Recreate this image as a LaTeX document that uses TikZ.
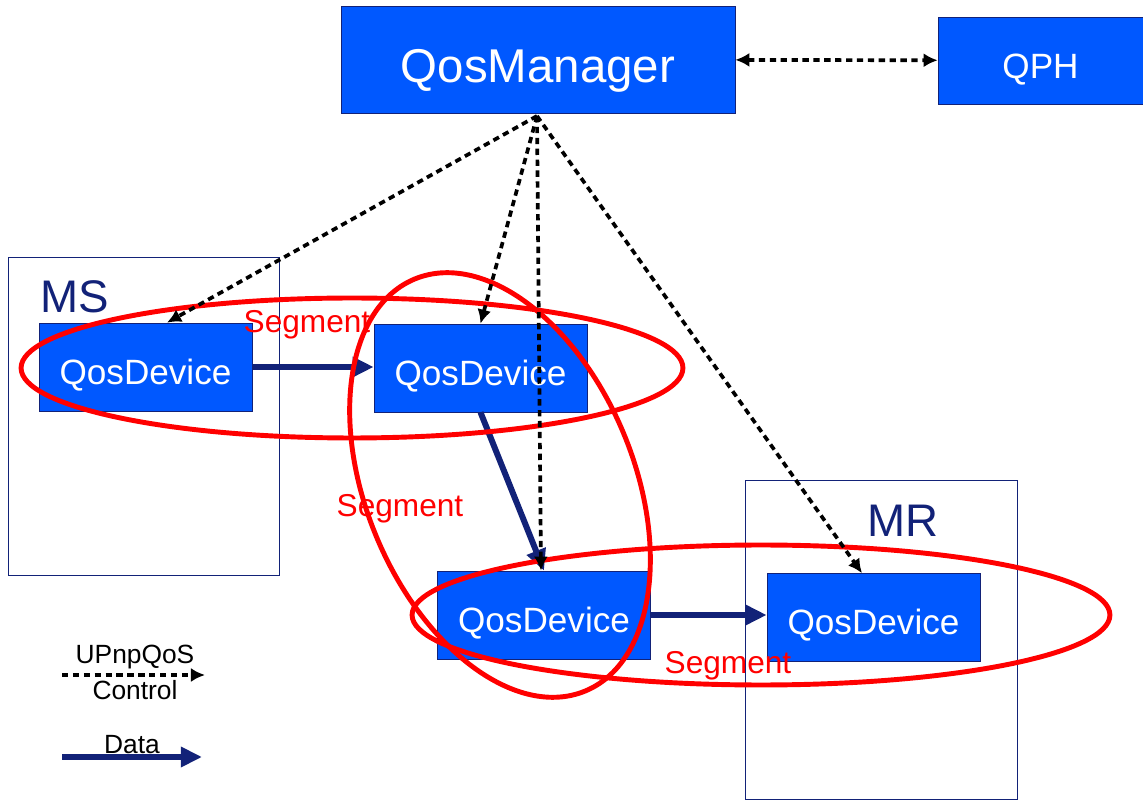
\documentclass[tikz,border=0pt]{standalone}
\usepackage{fontspec}
\setmainfont{Liberation Sans}
\usetikzlibrary{arrows.meta}
\definecolor{qosblue}{RGB}{0,88,255}
\definecolor{qosnavy}{RGB}{18,34,120}
\colorlet{segred}{red}

\begin{document}
\begin{tikzpicture}[x=0.02cm,y=-0.02cm]
\useasboundingbox (0,0) rectangle (1143,803);
\tikzset{QosBox/.style ={draw=qosnavy, fill=qosblue, text=white, inner sep=0, minimum width=4.26cm, minimum height=1.76cm, text height=0.7cm, text depth=0pt, font=\fontsize{20}{24}\selectfont}}
\tikzset{HostBox/.style ={draw=qosnavy, line width=0.6pt, inner sep=0, minimum width=5.43cm, minimum height=6.37cm}}
\tikzset{HostLabel/.style ={text=qosnavy, inner sep=0, font=\fontsize{26}{30}\selectfont}}
\tikzset{SegLabel/.style ={text=segred, inner sep=0, font=\fontsize{18}{21}\selectfont}}
\tikzset{NoteLabel/.style ={inner sep=0, font=\fontsize{15}{18}\selectfont}}
\tikzset{CtrlEdge/.style ={-{Latex[length=8pt,width=8pt]}, line width=2.1pt, dash pattern=on 3.6pt off 2.6pt}}
\tikzset{DataEdge/.style ={-{Triangle[length=12pt,width=11pt]}, line width=3.4pt, color=qosnavy}}
\tikzset{SegRing/.style ={draw=segred, line width=2.8pt}}
% hosts
\node[HostBox] (ms) at (144,416.5) {};
\node[HostBox] (mr) at (881.5,640) {};
\node[HostLabel] (msname) at (75,297) {MS};
\node[HostLabel] (mrname) at (903,521) {MR};
% QoS entities
\node[QosBox, minimum width=7.88cm, minimum height=2.14cm, text height=0.94cm, font=\fontsize{27}{32}\selectfont] (manager) at (538,59.5) {QosManager};
\node[QosBox, minimum width=4.1cm, minimum height=1.74cm, text height=0.72cm] (qph) at (1040.5,60.5) {QPH};
\node[QosBox] (dev1) at (145.5,367) {QosDevice};
\node[QosBox] (dev2) at (480.5,368) {QosDevice};
\node[QosBox] (dev3) at (544,615) {QosDevice};
\node[QosBox] (dev4) at (873.5,617.5) {QosDevice};
% data path
\draw[DataEdge] (dev1.east) -- (dev1.east -| dev2.west);
\draw[DataEdge] (dev2.south) -- (dev3.north);
\draw[DataEdge] (dev3.east) -- (dev3.east -| dev4.west);
% segments
\draw[SegRing] (352,368) ellipse [x radius=6.62cm, y radius=1.4cm];
\draw[SegRing, rotate around={22.5:(500,485)}] (500,485) ellipse [x radius=2.68cm, y radius=4.46cm];
\draw[SegRing] (761,615) ellipse [x radius=6.98cm, y radius=1.4cm];
\node[SegLabel] (seg1) at (307,325) {Segment};
\node[SegLabel] (seg2) at (400,509) {Segment};
\node[SegLabel] (seg3) at (728,666) {Segment};
% control path
\coordinate (hub) at (537,116);
\draw[CtrlEdge, {Latex[length=8pt,width=8pt]}-{Latex[length=8pt,width=8pt]}] (manager) -- (qph);
\draw[CtrlEdge] (hub) -- ([xshift=0.43cm]dev1.north);
\draw[CtrlEdge] (hub) -- (dev2.north);
\draw[CtrlEdge] (hub) -- ([xshift=-0.06cm]dev3.north);
\draw[CtrlEdge] (hub) -- ([xshift=-0.23cm]dev4.north);
% legend
\coordinate (ctrlA) at (62,675);
\coordinate (ctrlB) at (205,675);
\coordinate (dataA) at (62,757);
\coordinate (dataB) at (202,757);
\draw[CtrlEdge] (ctrlA) -- (ctrlB);
\draw[DataEdge] (dataA) -- (dataB);
\node[NoteLabel] (ctrlname) at (135,657) {UPnpQoS};
\node[NoteLabel] (ctrlname2) at (135,690) {Control};
\node[NoteLabel] (dataname) at (132,745) {Data};
\end{tikzpicture}
\end{document}
